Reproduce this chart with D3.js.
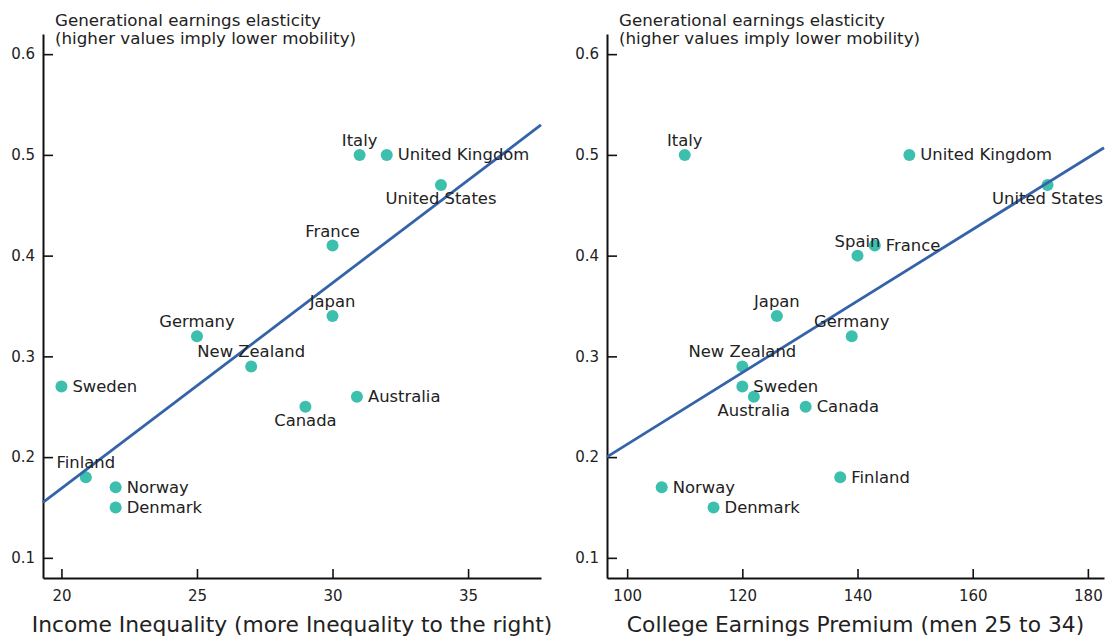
<!DOCTYPE html>
<html><head><meta charset="utf-8">
<script src="https://cdn.jsdelivr.net/npm/d3@7"></script>
<style>
body{margin:0;background:#fff;}
svg text{font-family:"DejaVu Sans", sans-serif;fill:#222;}
</style></head>
<body><svg id="c" width="1106" height="637"></svg>
<script>
// ---- data ----
const countriesA = ["Italy","United Kingdom","United States","France","Japan","Germany","New Zealand","Sweden","Canada","Australia","Finland","Norway","Denmark"];
const inequalityA = [31,32,34,30,30,25,27,20,29,30.9,20.9,22,22];
const elasticityA = [0.50,0.50,0.47,0.41,0.34,0.32,0.29,0.27,0.25,0.26,0.18,0.17,0.15];

const countriesB = ["Italy","United Kingdom","United States","Spain","France","Japan","Germany","New Zealand","Sweden","Australia","Canada","Finland","Norway","Denmark"];
const premiumB = [110,149,173,140,143,126,139,120,120,122,131,137,106,115];
const elasticityB = [0.50,0.50,0.47,0.40,0.41,0.34,0.32,0.29,0.27,0.26,0.25,0.18,0.17,0.15];

const yTicks = [0.1,0.2,0.3,0.4,0.5,0.6];
const xTicksA = [20,25,30,35];
const xTicksB = [100,120,140,160,180];
const yTitle = ["Generational earnings elasticity","(higher values imply lower mobility)"];
const xTitleA = "Income Inequality (more Inequality to the right)";
const xTitleB = "College Earnings Premium (men 25 to 34)";

// label placement: a=above, b=below, r=right
const placeA = {"Italy":"a","United Kingdom":"r","United States":"b","France":"a","Japan":"a","Germany":"a","New Zealand":"a","Sweden":"r","Canada":"b","Australia":"r","Finland":"a","Norway":"r","Denmark":"r"};
const placeB = {"Italy":"a","United Kingdom":"r","United States":"b","Spain":"a","France":"r","Japan":"a","Germany":"a","New Zealand":"a","Sweden":"r","Australia":"b","Canada":"r","Finland":"r","Norway":"r","Denmark":"r"};

const svg = d3.select("#c");
const POINT = "#3dbfae", LINE = "#3563a9";

const y = d3.scaleLinear().domain([0.08,0.62]).range([578,34]);

function panel(xDomain, xRange, xs, ys, names, place, xTicks, xTitle){
  const g = svg.append("g");
  const x = d3.scaleLinear().domain(xDomain).range(xRange);
  // regression
  const mx = d3.mean(xs), my = d3.mean(ys);
  let sxy=0, sxx=0;
  xs.forEach((v,i)=>{sxy+=(v-mx)*(ys[i]-my); sxx+=(v-mx)*(v-mx);});
  const b = sxy/sxx, a = my - b*mx;
  // axes
  const ax = g.append("g").attr("transform","translate(0,578)")
    .call(d3.axisBottom(x).tickValues(xTicks).tickSize(-9).tickSizeOuter(0).tickPadding(12).tickFormat(d3.format("d")));
  const ay = g.append("g").attr("transform",`translate(${xRange[0]},0)`)
    .call(d3.axisLeft(y).tickValues(yTicks).tickSize(-10).tickSizeOuter(0).tickPadding(8).tickFormat(d3.format(".1f")));
  [ax,ay].forEach(s=>{
    s.select(".domain").attr("stroke","#111").attr("stroke-width",2);
    s.selectAll(".tick line").attr("stroke","#111").attr("stroke-width",1.6);
    s.selectAll(".tick text").attr("font-size",15).style("font-family","'DejaVu Sans', sans-serif").style("fill","#222");
  });
  // y title
  yTitle.forEach((t,i)=>g.append("text").attr("x",xRange[0]+12).attr("y",26+i*18).attr("font-size",16.7).text(t));
  // x title
  g.append("text").attr("x",(xRange[0]+xRange[1])/2).attr("y",632).attr("text-anchor","middle").attr("font-size",21.8).text(xTitle);
  // points
  g.selectAll("circle").data(names).join("circle")
    .attr("cx",(d,i)=>x(xs[i])).attr("cy",(d,i)=>y(ys[i])).attr("r",6).attr("fill",POINT);
  // regression line
  g.append("line").attr("x1",x(xDomain[0])).attr("y1",y(a+b*xDomain[0]))
    .attr("x2",x(xDomain[1])).attr("y2",y(a+b*xDomain[1]))
    .attr("stroke",LINE).attr("stroke-width",2.8);
  // labels
  g.selectAll("text.lab").data(names).join("text").attr("class","lab")
    .attr("font-size",16.4)
    .attr("x",(d,i)=>x(xs[i]) + (place[d]==="r"?11:0))
    .attr("y",(d,i)=>y(ys[i]) + (place[d]==="a"?-9:place[d]==="b"?19:5.5))
    .attr("text-anchor",d=>place[d]==="r"?"start":"middle")
    .text(d=>d);
}

panel([19.32,37.69],[43,541],inequalityA,elasticityA,countriesA,placeA,xTicksA,xTitleA);
panel([96.5,182.8],[607,1104],premiumB,elasticityB,countriesB,placeB,xTicksB,xTitleB);
</script></body></html>
